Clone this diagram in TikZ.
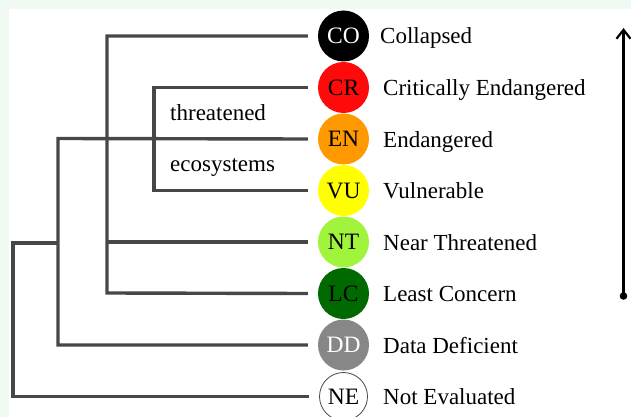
\documentclass[tikz,border=0pt]{standalone}
\usepackage{fontspec}
\setmainfont{Liberation Serif}
\usetikzlibrary{arrows.meta}
\definecolor{mint}{HTML}{F0FAF2}
\definecolor{treegray}{HTML}{474747}
\definecolor{cCR}{HTML}{FF0A0A}
\definecolor{cEN}{HTML}{FF9900}
\definecolor{cVU}{HTML}{FFFF00}
\definecolor{cNT}{HTML}{A0F53C}
\definecolor{cLC}{HTML}{006A00}
\definecolor{cDD}{HTML}{878787}
\tikzset{
  dot/.style={circle, minimum size=51pt, inner sep=0pt, font=\fontsize{23.5}{28}\selectfont},
  lab/.style={anchor=base west, inner sep=0pt, font=\fontsize{23}{28}\selectfont},
  tree/.style={draw=treegray, line width=3.4pt},
}
\begin{document}
\begin{tikzpicture}[x=1pt,y=-1pt]
\fill[mint] (0,0) rectangle (631,417);
\fill[white] (9,9) rectangle (631,417);
\useasboundingbox (0,0) rectangle (631,417);

% circles
\node[dot, fill=black, text=white] (co) at (343.5,36) {CO};
\node[dot, fill=cCR] (cr) at (343.5,87.5) {CR};
\node[dot, fill=cEN] (en) at (343.5,139) {EN};
\node[dot, fill=cVU] (vu) at (343.5,190.5) {VU};
\node[dot, fill=cNT] (nt) at (343.5,242) {NT};
\node[dot, fill=cLC] (lc) at (343.5,293.5) {LC};
\node[dot, fill=cDD, text=white] (dd) at (343.5,345) {DD};
\node[dot, fill=white, draw=treegray, line width=0.8pt, minimum size=48pt] (ne) at (343.5,396.5) {NE};

% labels
\node[lab] (lco) at (380,44) {Collapsed};
\node[lab] (lcr) at (383,95.5) {Critically Endangered};
\node[lab] (len) at (383,147) {Endangered};
\node[lab] (lvu) at (383,198.5) {Vulnerable};
\node[lab] (lnt) at (383,250) {Near Threatened};
\node[lab] (llc) at (383,301.5) {Least Concern};
\node[lab] (ldd) at (383,353) {Data Deficient};
\node[lab] (lne) at (383,404.5) {Not Evaluated};

\node[lab] (thr) at (170,120.5) {threatened};
\node[lab] (eco) at (170,171) {ecosystems};

% tree junctions
\coordinate (r) at (13,243);
\coordinate (a) at (58,243);
\coordinate (b) at (58,138.5);
\coordinate (cbot) at (107,293);
\coordinate (cnt) at (107,242);
\coordinate (tbot) at (154,190.5);

\draw[tree] ([xshift=-10pt]ne.west) -| (r) -- (a);
\draw[tree] ([xshift=-10pt]dd.west) -| (b) -- ([xshift=-10pt]en.west);
\draw[tree] ([xshift=-10pt]co.west) -| (cbot) -- ([xshift=-10pt]lc.west);
\draw[tree] (cnt) -- ([xshift=-10pt]nt.west);
\draw[tree] ([xshift=-10pt]cr.west) -| (tbot) -- ([xshift=-10pt]vu.west);

% arrow
\coordinate (abot) at (623.5,296);
\coordinate (atop) at (623.5,28);
\fill[black] (abot) circle (3.8pt);
\draw[line width=2.4pt, -{Straight Barb[length=9pt,width=14pt,line width=2.2pt]}] (abot) -- (atop);
\end{tikzpicture}
\end{document}
